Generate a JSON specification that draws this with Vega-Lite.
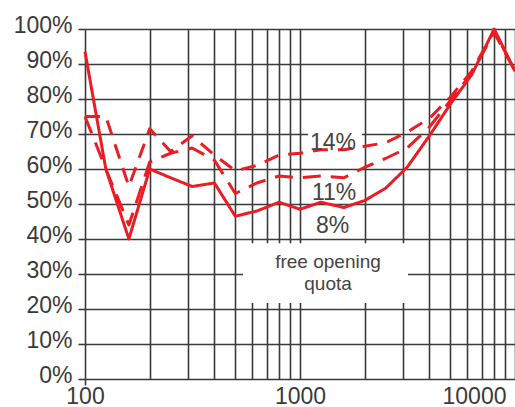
{
  "$schema": "https://vega.github.io/schema/vega-lite/v6.json",
  "width": 430,
  "height": 350,
  "autosize": {"type": "none"},
  "padding": {"left": 85, "top": 29, "right": 0, "bottom": 28},
  "background": "white",
  "config": {"view": {"stroke": null}},
  "datasets": {
    "curves": [
      {"freq": 100, "absorption": 93.5, "quota": "8%"},
      {"freq": 125, "absorption": 60, "quota": "8%"},
      {"freq": 160, "absorption": 40, "quota": "8%"},
      {"freq": 200, "absorption": 60, "quota": "8%"},
      {"freq": 250, "absorption": 57.5, "quota": "8%"},
      {"freq": 315, "absorption": 55, "quota": "8%"},
      {"freq": 400, "absorption": 56, "quota": "8%"},
      {"freq": 500, "absorption": 46.5, "quota": "8%"},
      {"freq": 630, "absorption": 48, "quota": "8%"},
      {"freq": 800, "absorption": 50.5, "quota": "8%"},
      {"freq": 1000, "absorption": 48.5, "quota": "8%"},
      {"freq": 1250, "absorption": 50.5, "quota": "8%"},
      {"freq": 1600, "absorption": 49, "quota": "8%"},
      {"freq": 2000, "absorption": 51, "quota": "8%"},
      {"freq": 2500, "absorption": 54.5, "quota": "8%"},
      {"freq": 3150, "absorption": 60.5, "quota": "8%"},
      {"freq": 4000, "absorption": 69.5, "quota": "8%"},
      {"freq": 5000, "absorption": 78.5, "quota": "8%"},
      {"freq": 6300, "absorption": 87, "quota": "8%"},
      {"freq": 8000, "absorption": 100, "quota": "8%"},
      {"freq": 10000, "absorption": 88, "quota": "8%"},
      {"freq": 100, "absorption": 75, "quota": "11%"},
      {"freq": 125, "absorption": 60, "quota": "11%"},
      {"freq": 160, "absorption": 44, "quota": "11%"},
      {"freq": 200, "absorption": 62, "quota": "11%"},
      {"freq": 250, "absorption": 64.5, "quota": "11%"},
      {"freq": 315, "absorption": 66, "quota": "11%"},
      {"freq": 400, "absorption": 62.5, "quota": "11%"},
      {"freq": 500, "absorption": 53, "quota": "11%"},
      {"freq": 630, "absorption": 56, "quota": "11%"},
      {"freq": 800, "absorption": 58, "quota": "11%"},
      {"freq": 1000, "absorption": 57.5, "quota": "11%"},
      {"freq": 1250, "absorption": 58, "quota": "11%"},
      {"freq": 1600, "absorption": 57.5, "quota": "11%"},
      {"freq": 2000, "absorption": 60.5, "quota": "11%"},
      {"freq": 2500, "absorption": 63, "quota": "11%"},
      {"freq": 3150, "absorption": 66, "quota": "11%"},
      {"freq": 4000, "absorption": 72, "quota": "11%"},
      {"freq": 5000, "absorption": 79.5, "quota": "11%"},
      {"freq": 6300, "absorption": 87.5, "quota": "11%"},
      {"freq": 8000, "absorption": 99, "quota": "11%"},
      {"freq": 10000, "absorption": 88, "quota": "11%"},
      {"freq": 100, "absorption": 75, "quota": "14%"},
      {"freq": 125, "absorption": 75, "quota": "14%"},
      {"freq": 160, "absorption": 55, "quota": "14%"},
      {"freq": 200, "absorption": 71.5, "quota": "14%"},
      {"freq": 250, "absorption": 65, "quota": "14%"},
      {"freq": 315, "absorption": 69.5, "quota": "14%"},
      {"freq": 400, "absorption": 64, "quota": "14%"},
      {"freq": 500, "absorption": 59.5, "quota": "14%"},
      {"freq": 630, "absorption": 61, "quota": "14%"},
      {"freq": 800, "absorption": 64, "quota": "14%"},
      {"freq": 1000, "absorption": 64.5, "quota": "14%"},
      {"freq": 1250, "absorption": 65.5, "quota": "14%"},
      {"freq": 1600, "absorption": 65.5, "quota": "14%"},
      {"freq": 2000, "absorption": 66.5, "quota": "14%"},
      {"freq": 2500, "absorption": 67.5, "quota": "14%"},
      {"freq": 3150, "absorption": 70.5, "quota": "14%"},
      {"freq": 4000, "absorption": 74.5, "quota": "14%"},
      {"freq": 5000, "absorption": 80.5, "quota": "14%"},
      {"freq": 6300, "absorption": 88, "quota": "14%"},
      {"freq": 8000, "absorption": 99.5, "quota": "14%"},
      {"freq": 10000, "absorption": 88, "quota": "14%"}
    ],
    "boxes": [
      {"f1": 543, "f2": 3180, "p1": 21.7, "p2": 38.8},
      {"f1": 1090, "f2": 1940, "p1": 67, "p2": 72}
    ],
    "labels": [
      {"freq": 1424, "absorption": 65.3, "text": "14%"},
      {"freq": 1440, "absorption": 51.1, "text": "11%"},
      {"freq": 1418, "absorption": 41.6, "text": "8%"}
    ],
    "note": [
      {"freq": 1350, "absorption": 31.7, "text": "free opening\nquota"}
    ]
  },
  "layer": [
    {
      "data": {"name": "boxes"},
      "mark": {"type": "rect", "fill": "white", "stroke": null},
      "encoding": {
        "x": {
          "field": "f1", "type": "quantitative",
          "scale": {"type": "log", "domain": [100, 10000], "nice": false},
          "axis": {
            "title": null,
            "values": [100, 200, 300, 400, 500, 600, 700, 800, 900, 1000, 2000, 3000, 4000, 5000, 6000, 7000, 8000, 9000, 10000],
            "tickCount": 40,
            "labelExpr": "datum.value == 100 || datum.value == 1000 || datum.value == 10000 ? '' + datum.value : ''",
            "grid": true, "gridColor": "#3a3a3a", "gridWidth": 1.6,
            "domain": false,
            "ticks": true, "tickSize": 6, "tickWidth": 1.6,
            "tickColor": {"condition": {"test": "datum.value == 100", "value": "#3a3a3a"}, "value": "transparent"},
            "labelPadding": 0, "labelFlush": false, "labelOverlap": false,
            "labelFont": "Liberation Sans", "labelFontSize": 23, "labelColor": "#3a3a3a",
            "labelOffset": {"condition": {"test": "datum.value == 10000", "value": -41}, "value": 0}
          }
        },
        "x2": {"field": "f2"},
        "y": {
          "field": "p1", "type": "quantitative",
          "scale": {"domain": [0, 100], "nice": false},
          "axis": {
            "title": null,
            "values": [0, 10, 20, 30, 40, 50, 60, 70, 80, 90, 100],
            "tickCount": 20,
            "labelExpr": "datum.value + '%'",
            "grid": true, "gridColor": "#3a3a3a", "gridWidth": 1.6,
            "domain": false,
            "ticks": true, "tickSize": 7, "tickWidth": 1.6, "tickColor": "#3a3a3a",
            "labelPadding": 6, "labelOffset": -4, "labelOverlap": false, "labelFlush": false,
            "labelFont": "Liberation Sans", "labelFontSize": 23, "labelColor": "#3a3a3a"
          }
        },
        "y2": {"field": "p2"}
      }
    },
    {
      "data": {"name": "curves"},
      "mark": {"type": "line", "color": "#ec1c24", "strokeWidth": 3, "strokeCap": "butt", "strokeJoin": "round"},
      "encoding": {
        "x": {"field": "freq", "type": "quantitative"},
        "y": {"field": "absorption", "type": "quantitative"},
        "strokeDash": {
          "field": "quota", "type": "nominal",
          "scale": {"domain": ["8%", "11%", "14%"], "range": [[1, 0], [18, 10], [15, 10]]},
          "legend": null
        }
      }
    },
    {
      "data": {"name": "labels"},
      "mark": {"type": "text", "font": "Liberation Sans", "fontSize": 23, "color": "#444444", "align": "center", "baseline": "alphabetic"},
      "encoding": {
        "x": {"field": "freq", "type": "quantitative"},
        "y": {"field": "absorption", "type": "quantitative"},
        "text": {"field": "text"}
      }
    },
    {
      "data": {"name": "note"},
      "mark": {"type": "text", "font": "Liberation Sans", "fontSize": 19, "color": "#444444", "align": "center", "baseline": "alphabetic", "lineBreak": "\n", "lineHeight": 22},
      "encoding": {
        "x": {"field": "freq", "type": "quantitative"},
        "y": {"field": "absorption", "type": "quantitative"},
        "text": {"field": "text"}
      }
    }
  ]
}
